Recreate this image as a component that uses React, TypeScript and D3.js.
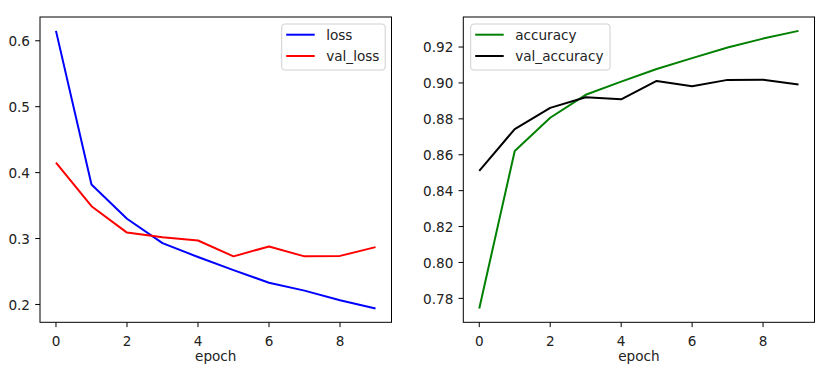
import React from "react";
import * as d3 from "d3";

const epochs = [0, 1, 2, 3, 4, 5, 6, 7, 8, 9];
const loss = [0.615, 0.382, 0.330, 0.293, 0.272, 0.252, 0.233, 0.221, 0.2065, 0.194];
const valLoss = [0.415, 0.349, 0.309, 0.302, 0.297, 0.273, 0.288, 0.273, 0.2737, 0.287];
const accuracy = [0.7744, 0.8621, 0.8806, 0.8934, 0.9007, 0.9078, 0.9138, 0.9197, 0.9247, 0.929];
const valAccuracy = [0.851, 0.8743, 0.8861, 0.892, 0.8909, 0.9011, 0.8981, 0.9017, 0.9018, 0.8991];
const xTicks = [0, 2, 4, 6, 8];
const lossTicks = [0.2, 0.3, 0.4, 0.5, 0.6];
const accTicks = [0.78, 0.8, 0.82, 0.84, 0.86, 0.88, 0.9, 0.92];

const FONT = "DejaVu Sans, sans-serif";
const FS = 13.6;

type Series = { name: string; values: number[]; color: string };

function Panel(props: {
  left: number; right: number; top: number; bottom: number;
  series: Series[]; yTicks: number[]; yFmt: (v: number) => string;
  legendX: number; legendW: number;
}) {
  const { left, right, top, bottom, series, yTicks, yFmt, legendX, legendW } = props;
  const all = series.flatMap((s) => s.values);
  const ymin = d3.min(all)!, ymax = d3.max(all)!;
  const ym = (ymax - ymin) * 0.05;
  const x = d3.scaleLinear().domain([-0.45, 9.45]).range([left, right]);
  const y = d3.scaleLinear().domain([ymin - ym, ymax + ym]).range([bottom, top]);
  const line = (vals: number[]) =>
    d3.line<number>().x((_, i) => x(epochs[i])).y((d) => y(d))(vals) || "";
  return (
    <g>
      {series.map((s) => (
        <path key={s.name} d={line(s.values)} fill="none" stroke={s.color} strokeWidth={2} strokeLinejoin="round" />
      ))}
      <rect x={left} y={top} width={right - left} height={bottom - top} fill="none" stroke="#000" strokeWidth={1} />
      {xTicks.map((t) => (
        <g key={t}>
          <line x1={x(t)} x2={x(t)} y1={bottom} y2={bottom + 4.8} stroke="#000" strokeWidth={1} />
          <text x={x(t)} y={bottom + 23.3} textAnchor="middle" fontFamily={FONT} fontSize={FS} fill="#222">{t}</text>
        </g>
      ))}
      {yTicks.map((t) => (
        <g key={t}>
          <line x1={left - 4.8} x2={left} y1={y(t)} y2={y(t)} stroke="#000" strokeWidth={1} />
          <text x={left - 10} y={y(t) + 5.2} textAnchor="end" fontFamily={FONT} fontSize={FS} fill="#222">{yFmt(t)}</text>
        </g>
      ))}
      <text x={(left + right) / 2} y={bottom + 38.2} textAnchor="middle" fontFamily={FONT} fontSize={FS} fill="#222">epoch</text>
      <rect x={legendX} y={24} width={legendW} height={46} rx={3} fill="#fff" fillOpacity={0.8} stroke="#d0d0d0" strokeWidth={1} />
      {series.map((s, i) => (
        <g key={s.name}>
          <line x1={legendX + 4.5} x2={legendX + 33} y1={34.7 + i * 21.3} y2={34.7 + i * 21.3} stroke={s.color} strokeWidth={2} />
          <text x={legendX + 44.5} y={34.7 + i * 21.3 + 5} fontFamily={FONT} fontSize={FS} fill="#222">{s.name}</text>
        </g>
      ))}
    </g>
  );
}

export default function App() {
  return (
    <svg width={816} height={365} style={{ position: "absolute", left: 0, top: 0, background: "#fff" }}>
      <rect width={816} height={365} fill="#fff" />
      <Panel
        left={40} right={391.5} top={17} bottom={322.3}
        series={[
          { name: "loss", values: loss, color: "#0000ff" },
          { name: "val_loss", values: valLoss, color: "#ff0000" },
        ]}
        yTicks={lossTicks} yFmt={(v) => v.toFixed(1)}
        legendX={281.7} legendW={103.5}
      />
      <Panel
        left={463.3} right={814.5} top={17} bottom={322.3}
        series={[
          { name: "accuracy", values: accuracy, color: "#008000" },
          { name: "val_accuracy", values: valAccuracy, color: "#000000" },
        ]}
        yTicks={accTicks} yFmt={(v) => v.toFixed(2)}
        legendX={470.7} legendW={139.3}
      />
    </svg>
  );
}
